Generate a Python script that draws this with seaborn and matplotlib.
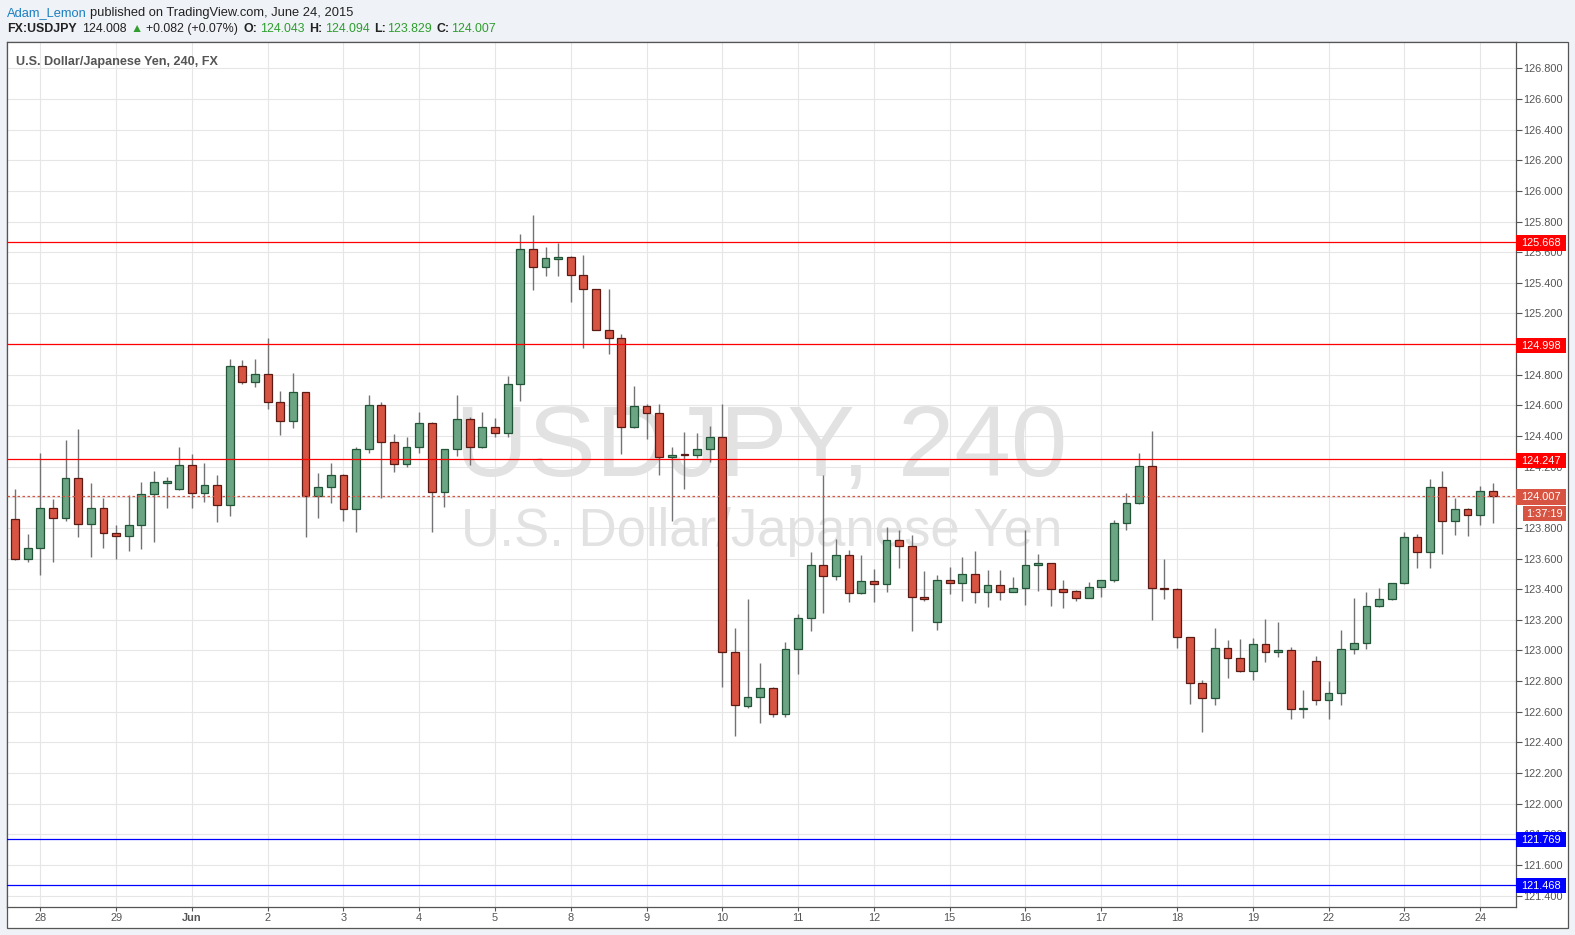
import matplotlib
matplotlib.use('Agg')
import matplotlib.pyplot as plt
import matplotlib.transforms as mtransforms
from matplotlib.patches import Rectangle
import seaborn as sns
import numpy as np
import pandas as pd

# USDJPY 4h candles, 27 May 16:00 -> 24 Jun 04:00
opens = [123.856, 123.595, 123.667, 123.928, 123.863, 124.124, 123.823, 123.928, 123.765, 123.745,
         123.817, 124.019, 124.096, 124.052, 124.211, 124.026, 124.078, 123.947, 124.855, 124.750,
         124.803, 124.620, 124.496, 124.685, 124.008, 124.065, 124.143, 123.921, 124.313, 124.600,
         124.358, 124.215, 124.326, 124.482, 124.032, 124.312, 124.508, 124.330, 124.456, 124.417,
         124.737, 125.618, 125.500, 125.553, 125.571, 125.454, 125.358, 125.095, 125.043, 124.457,
         124.594, 124.549, 124.261, 124.280, 124.275, 124.313, 124.391, 122.989, 122.640, 122.694,
         122.753, 122.583, 123.008, 123.210, 123.556, 123.484, 123.621, 123.373, 123.451, 123.432,
         123.719, 123.684, 123.347, 123.183, 123.457, 123.442, 123.497, 123.383, 123.425, 123.383,
         123.405, 123.555, 123.568, 123.399, 123.385, 123.340, 123.412, 123.457, 123.829, 123.960,
         124.202, 123.405, 123.399, 123.085, 122.785, 122.687, 123.014, 122.948, 122.863, 123.040,
         122.987, 123.001, 122.615, 122.929, 122.674, 122.720, 123.007, 123.046, 123.288, 123.334,
         123.438, 123.738, 123.640, 124.065, 123.843, 123.921, 123.882, 124.043]
highs = [124.054, 123.760, 124.289, 123.989, 124.374, 124.446, 124.093, 123.995, 123.819, 124.015,
         124.100, 124.172, 124.132, 124.328, 124.283, 124.224, 124.145, 124.903, 124.894, 124.903,
         125.040, 124.694, 124.811, 124.690, 124.158, 124.224, 124.150, 124.328, 124.668, 124.619,
         124.410, 124.393, 124.556, 124.490, 124.315, 124.667, 124.524, 124.556, 124.515, 124.791,
         125.718, 125.842, 125.633, 125.661, 125.575, 125.580, 125.362, 125.358, 125.066, 124.726,
         124.607, 124.607, 124.328, 124.425, 124.418, 124.466, 124.609, 123.146, 123.336, 122.918,
         122.762, 123.055, 123.238, 123.641, 124.146, 123.728, 123.656, 123.623, 123.530, 123.806,
         123.787, 123.752, 123.519, 123.492, 123.544, 123.610, 123.649, 123.525, 123.525, 123.479,
         123.786, 123.629, 123.570, 123.460, 123.394, 123.447, 123.460, 123.853, 124.027, 124.289,
         124.432, 123.597, 123.405, 123.090, 122.807, 123.146, 123.068, 123.074, 123.081, 123.205,
         123.185, 123.020, 122.742, 122.961, 122.800, 123.133, 123.342, 123.381, 123.407, 123.440,
         123.773, 123.760, 124.119, 124.171, 123.995, 123.928, 124.073, 124.094]
lows = [123.590, 123.580, 123.493, 123.580, 123.847, 123.743, 123.612, 123.671, 123.595, 123.652,
        123.665, 123.710, 123.932, 124.045, 123.928, 123.971, 123.841, 123.880, 124.739, 124.722,
        124.578, 124.409, 124.454, 123.743, 123.867, 123.965, 123.847, 123.776, 124.291, 123.993,
        124.167, 124.199, 124.291, 123.773, 123.938, 124.271, 124.210, 124.323, 124.395, 124.395,
        124.630, 125.355, 125.446, 125.446, 125.277, 124.976, 125.090, 124.938, 124.283, 124.450,
        124.382, 124.146, 123.847, 124.056, 124.254, 124.232, 122.764, 122.445, 122.627, 122.529,
        122.568, 122.568, 122.849, 123.129, 123.247, 123.462, 123.317, 123.370, 123.317, 123.384,
        123.541, 123.129, 123.325, 123.135, 123.370, 123.325, 123.312, 123.286, 123.331, 123.380,
        123.299, 123.390, 123.292, 123.279, 123.325, 123.340, 123.351, 123.450, 123.788, 123.955,
        123.201, 123.338, 123.018, 122.652, 122.470, 122.646, 122.822, 122.860, 122.809, 122.927,
        122.959, 122.550, 122.561, 122.644, 122.553, 122.644, 122.979, 123.011, 123.281, 123.330,
        123.435, 123.540, 123.540, 123.632, 123.756, 123.749, 123.821, 123.829]
closes = [123.595, 123.667, 123.928, 123.863, 124.124, 123.823, 123.928, 123.765, 123.745, 123.817,
          124.019, 124.098, 124.100, 124.209, 124.026, 124.078, 123.947, 124.855, 124.750, 124.803,
          124.620, 124.496, 124.685, 124.008, 124.065, 124.143, 123.921, 124.313, 124.600, 124.358,
          124.215, 124.326, 124.482, 124.032, 124.312, 124.508, 124.330, 124.456, 124.417, 124.737,
          125.618, 125.500, 125.559, 125.570, 125.454, 125.358, 125.095, 125.043, 124.457, 124.594,
          124.549, 124.261, 124.279, 124.275, 124.313, 124.391, 122.989, 122.643, 122.694, 122.753,
          122.583, 123.008, 123.210, 123.556, 123.484, 123.621, 123.373, 123.451, 123.432, 123.719,
          123.684, 123.347, 123.334, 123.457, 123.442, 123.497, 123.383, 123.425, 123.383, 123.405,
          123.555, 123.568, 123.399, 123.383, 123.340, 123.412, 123.457, 123.829, 123.960, 124.202,
          123.405, 123.399, 123.085, 122.785, 122.687, 123.014, 122.948, 122.863, 123.040, 122.987,
          123.001, 122.615, 122.618, 122.674, 122.720, 123.007, 123.046, 123.288, 123.334, 123.438,
          123.738, 123.640, 124.065, 123.843, 123.921, 123.882, 124.038, 124.007]

day_labels = ['28', '29', 'Jun', '2', '3', '4', '5', '8', '9', '10', '11', '12', '15', '16',
              '17', '18', '19', '22', '23', '24']
red_levels = [125.668, 124.998, 124.247]
blue_levels = [121.769, 121.468]
last_price = 124.007
countdown = '1:37:19'

W, H = 1575, 935
UP_FILL, UP_EDGE = '#6ba583', '#225437'
DN_FILL, DN_EDGE = '#d75442', '#5b1a13'
WICK = '#737375'
TXT = '#555555'

sns.set_theme(style='white')
plt.rcParams['font.family'] = ['Liberation Sans', 'DejaVu Sans']

df = pd.DataFrame({'open': opens, 'high': highs, 'low': lows, 'close': closes})
df['x'] = np.arange(len(df))
df['up'] = df['close'] >= df['open']

fig = plt.figure(figsize=(W / 100, H / 100), dpi=100)
fig.patch.set_facecolor('#eff2f6')

# outer chart frame (plot + price scale + time scale)
fl, ft, fr, fb = 6.7, 42.3, 1568, 928
frame = Rectangle((fl / W, 1 - fb / H), (fr - fl) / W, (fb - ft) / H,
                  transform=fig.transFigure, facecolor='white',
                  edgecolor=TXT, lw=0.9, zorder=-5)
fig.add_artist(frame)

pl, pr, pt, pb = 6.7, 1516, 42.3, 907
ax = fig.add_axes([pl / W, 1 - pb / H, (pr - pl) / W, (pb - pt) / H], zorder=2)
ax.set_facecolor('white')
ymin, ymax = 121.3255, 126.970
ax.set_ylim(ymin, ymax)
ax.set_xlim(-0.66, 118.84)
ppu = (pb - pt) / (ymax - ymin)  # pixels per price unit

# grid
yt = np.round(np.arange(121.4, 126.81, 0.2), 1)
ax.set_yticks(yt)
ax.set_yticklabels([f'{v:.3f}' for v in yt])
ax.set_xticks(2 + 6 * np.arange(len(day_labels)))
ax.set_xticklabels(day_labels)
for lab in ax.get_xticklabels():
    if lab.get_text() == 'Jun':
        lab.set_fontweight('bold')
ax.grid(True, color='#e6e6e6', lw=0.8)
ax.set_axisbelow(True)
ax.yaxis.tick_right()
ax.tick_params(axis='y', direction='out', length=4, width=0.8, color=TXT,
               labelsize=7.9, labelcolor=TXT, pad=1.5, right=True, left=False)
ax.tick_params(axis='x', direction='out', length=3, width=0.8, color=TXT,
               labelsize=7.9, labelcolor=TXT, pad=1.5, bottom=True)
for s in ax.spines.values():
    s.set_color(TXT)
    s.set_linewidth(0.9)

# watermark
ax.text(0.5, 0.528, 'USDJPY, 240', transform=ax.transAxes, ha='center', va='center',
        fontsize=73, color='#e2e2e2', zorder=0.6)
ax.text(0.5, 0.434, 'U.S. Dollar/Japanese Yen', transform=ax.transAxes, ha='center',
        va='center', fontsize=38, color='#e2e2e2', zorder=0.6)

# candles
min_h = 1.2 / ppu
ax.vlines(df['x'], df['low'], df['high'], color=WICK, lw=1.0, zorder=2)
body = (df['close'] - df['open']).abs().clip(lower=min_h)
bottom = df[['open', 'close']].min(axis=1)
ax.bar(df['x'], body, bottom=bottom, width=0.62,
       color=np.where(df['up'], UP_FILL, DN_FILL),
       edgecolor=np.where(df['up'], UP_EDGE, DN_EDGE), lw=0.9, zorder=3)

# levels
trans = mtransforms.blended_transform_factory(ax.transAxes, ax.transData)
tag_w = 50 / (pr - pl)
tag_h = 15.4 / ppu


def price_tag(y, color, label, x0=1.0, w=tag_w, dy=0.0):
    yc = y - dy
    ax.add_patch(Rectangle((x0, yc - tag_h / 2), w, tag_h, transform=trans,
                           facecolor=color, edgecolor='none', clip_on=False, zorder=6))
    ax.text(x0 + w / 2, yc, label, transform=trans, ha='center', va='center',
            color='white', fontsize=7.9, clip_on=False, zorder=7)


for lv in red_levels:
    ax.axhline(lv, color='#ff0000', lw=0.9, zorder=4)
    price_tag(lv, '#ff0000', f'{lv:.3f}', dy=1.3 / ppu)
for lv in blue_levels:
    ax.axhline(lv, color='#0000ff', lw=0.9, zorder=4)
    price_tag(lv, '#0000ff', f'{lv:.3f}', dy=0.5 / ppu)
ax.axhline(last_price, color=DN_FILL, lw=0.9, ls=(0, (2, 2)), zorder=4)
price_tag(last_price, DN_FILL, f'{last_price:.3f}', dy=0.8 / ppu)
price_tag(last_price, DN_FILL, countdown, x0=7 / (pr - pl) + 1.0,
          w=43 / (pr - pl), dy=17.5 / ppu)

# symbol title inside the pane
fig.text(15.7 / W, 1 - 61.7 / H, 'U.S. Dollar/Japanese Yen, 240, FX', ha='left',
         va='center', fontsize=9.1, fontweight='bold', color=TXT, zorder=5)

# header lines, chained left to right
fig.canvas.draw()
renderer = fig.canvas.get_renderer()


def chain(x, y, parts, size):
    for txt, color, weight, gap in parts:
        x += gap
        t = fig.text(x / W, 1 - y / H, txt, ha='left', va='center', fontsize=size,
                     color=color, fontweight=weight)
        bb = t.get_window_extent(renderer)
        x = bb.x1


GREEN = '#2f9e2f'
chain(6.7, 12.7, [('Adam_Lemon', '#1c7fc0', 'normal', 0),
                  ('published on TradingView.com, June 24, 2015', '#222222', 'normal', 4)], 9.3)
chain(6.7, 29.3, [('FX:USDJPY', '#222222', 'bold', 0),
                  ('124.008', '#222222', 'normal', 6),
                  ('\u25B2', GREEN, 'normal', 4),
                  ('+0.082 (+0.07%)', '#222222', 'normal', 3),
                  ('O:', '#222222', 'bold', 6), ('124.043', GREEN, 'normal', 2),
                  ('H:', '#222222', 'bold', 5), ('124.094', GREEN, 'normal', 2),
                  ('L:', '#222222', 'bold', 5), ('123.829', GREEN, 'normal', 1),
                  ('C:', '#222222', 'bold', 5), ('124.007', GREEN, 'normal', 1)], 8.9)

fig.savefig('out.png', dpi=100, facecolor=fig.get_facecolor())
